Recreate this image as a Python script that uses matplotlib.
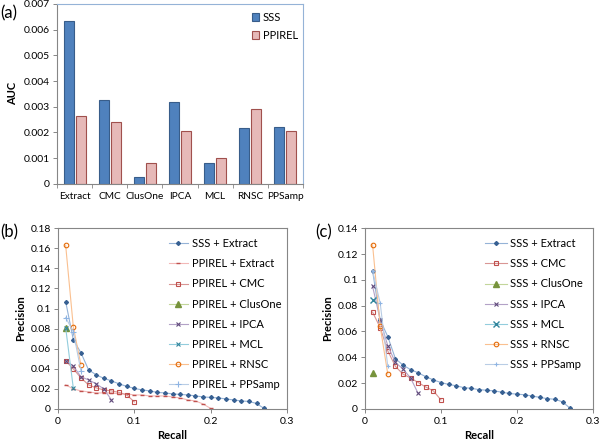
import numpy as np
import matplotlib
matplotlib.use("Agg")
import matplotlib.pyplot as plt

plt.rcParams['font.family'] = ['Lato', 'DejaVu Sans']

# (a) AUC bars
methods = ['Extract', 'CMC', 'ClusOne', 'IPCA', 'MCL', 'RNSC', 'PPSamp']
auc_sss = [0.00633, 0.00327, 0.00027, 0.00317, 0.00083, 0.00218, 0.00222]
auc_ppirel = [0.00263, 0.00239, 0.00080, 0.00206, 0.00101, 0.00290, 0.00205]

# precision/recall curves
rec_extract = [round(0.01 * i, 2) for i in range(1, 28)]
sss_extract = [0.107, 0.069, 0.056, 0.039, 0.034, 0.0305, 0.028, 0.025, 0.0225,
               0.0205, 0.019, 0.018, 0.0165, 0.016, 0.015, 0.0145, 0.014, 0.013,
               0.012, 0.0115, 0.011, 0.010, 0.009, 0.008, 0.0075, 0.0055, 0.0005]
rec_pp_extract = [round(0.01 * i, 2) for i in range(1, 21)]
pp_extract = [0.024, 0.020, 0.018, 0.017, 0.016, 0.016, 0.016, 0.015, 0.015, 0.014,
              0.014, 0.013, 0.013, 0.013, 0.012, 0.011, 0.009, 0.008, 0.005, 0.0005]

# (b) PPIREL + method
b_cmc_r = [0.01, 0.02, 0.03, 0.04, 0.05, 0.06, 0.07, 0.08, 0.09, 0.10]
b_cmc_p = [0.048, 0.040, 0.031, 0.024, 0.021, 0.019, 0.018, 0.0165, 0.014, 0.007]
b_clus_r = [0.01]
b_clus_p = [0.081]
b_ipca_r = [0.01, 0.02, 0.03, 0.04, 0.05, 0.06, 0.07]
b_ipca_p = [0.048, 0.043, 0.032, 0.029, 0.025, 0.020, 0.009]
b_mcl_r = [0.01, 0.02]
b_mcl_p = [0.081, 0.021]
b_rnsc_r = [0.01, 0.02, 0.03]
b_rnsc_p = [0.163, 0.082, 0.044]
b_pps_r = [0.01, 0.02, 0.03]
b_pps_p = [0.091, 0.077, 0.038]

# (c) SSS + method
c_cmc_r = [0.01, 0.02, 0.03, 0.04, 0.05, 0.06, 0.07, 0.08, 0.09, 0.10]
c_cmc_p = [0.075, 0.063, 0.045, 0.033, 0.027, 0.024, 0.0205, 0.017, 0.014, 0.007]
c_clus_r = [0.01]
c_clus_p = [0.028]
c_ipca_r = [0.01, 0.02, 0.03, 0.04, 0.05, 0.06, 0.07]
c_ipca_p = [0.095, 0.069, 0.049, 0.036, 0.031, 0.024, 0.012]
c_mcl_r = [0.01]
c_mcl_p = [0.084]
c_rnsc_r = [0.01, 0.02, 0.03]
c_rnsc_p = [0.127, 0.064, 0.027]
c_pps_r = [0.01, 0.02, 0.03]
c_pps_p = [0.107, 0.082, 0.033]

BLUE = '#4F81BD'
SPINE = '#868686'
FS = 8
TFS = 7.5

fig = plt.figure(figsize=(6, 4.41), dpi=100)

def style_axes(ax):
    for s in ax.spines.values():
        s.set_color(SPINE)
        s.set_linewidth(0.8)
    ax.tick_params(labelsize=TFS, color=SPINE, length=3, width=0.7, direction='out', pad=2)

# ---- (a) ----
ax = fig.add_axes([0.095, 0.583, 0.41, 0.408])
x = np.arange(len(methods))
w = 0.285
off = 0.17
ax.bar(x - off, auc_sss, w, color=BLUE, edgecolor='#385D8A', linewidth=0.8, label='SSS')
ax.bar(x + off, auc_ppirel, w, color='#E6B9B8', edgecolor='#A0504D', linewidth=0.8, label='PPIREL')
ax.set_xlim(-0.5, len(methods) - 0.5)
ax.set_ylim(0, 0.007)
ax.set_yticks(np.arange(0, 0.0071, 0.001))
ax.set_yticklabels(['0'] + ['%.3f' % v for v in np.arange(0.001, 0.0071, 0.001)])
ax.set_xticks(x)
ax.set_xticklabels(methods)
ax.set_xticks(np.arange(-0.5, len(methods), 1), minor=True)
style_axes(ax)
ax.tick_params(axis='x', which='major', length=0, pad=6, labelsize=7.3)
ax.tick_params(axis='x', which='minor', length=3, color=SPINE)
ax.spines['top'].set_color('#95B3D7')
ax.spines['right'].set_color('#95B3D7')
ax.set_ylabel('AUC', fontsize=FS, fontweight='bold', labelpad=4)
ax.legend(loc='upper right', frameon=False, fontsize=FS, handlelength=0.7, handleheight=0.7,
          handletextpad=0.3, labelspacing=0.58, bbox_to_anchor=(1.02, 1.01))
fig.text(0.0, 0.97, '(a)', fontsize=12, va='center')

# ---- (b) and (c) ----
def pr_axes(rect, ymax, ystep):
    a = fig.add_axes(rect)
    a.set_xlim(0, 0.3)
    a.set_ylim(0, ymax)
    a.set_xticks([0, 0.1, 0.2, 0.3])
    a.set_xticklabels(['0', '0.1', '0.2', '0.3'])
    yt = np.round(np.arange(0, ymax + 1e-9, ystep), 3)
    a.set_yticks(yt)
    a.set_yticklabels(['0'] + ['%g' % v for v in yt[1:]])
    style_axes(a)
    a.tick_params(axis='x', pad=3)
    a.set_xlabel('Recall', fontsize=FS, fontweight='bold')
    a.xaxis.set_label_coords(0.5, -0.118)
    a.set_ylabel('Precision', fontsize=FS, fontweight='bold', labelpad=3)
    return a

axb = pr_axes([0.0967, 0.0726, 0.3817, 0.41], 0.18, 0.02)
axb.plot(rec_extract, sss_extract, color='#95B3D7', lw=0.8, marker='D', ms=2,
         mfc='#376092', mec='#376092', label='SSS + Extract')
axb.plot(rec_pp_extract, pp_extract, color='#F2B8B7', lw=0.8, marker='_', ms=3,
         mec='#C0504D', label='PPIREL + Extract')
axb.plot(b_cmc_r, b_cmc_p, color='#D99694', lw=0.8, marker='s', ms=3.3,
         mfc='none', mec='#C0504D', mew=0.8, label='PPIREL + CMC')
axb.plot(b_clus_r, b_clus_p, color='#C3D69B', lw=0.8, marker='^', ms=4.5,
         mfc='#77933C', mec='#77933C', label='PPIREL + ClusOne')
axb.plot(b_ipca_r, b_ipca_p, color='#B3A2C7', lw=0.8, marker='x', ms=3,
         mec='#604A7B', mew=0.8, label='PPIREL + IPCA')
axb.plot(b_mcl_r, b_mcl_p, color='#93CDDD', lw=0.8, marker='x', ms=2.5,
         mec='#31859C', mew=0.8, label='PPIREL + MCL')
axb.plot(b_rnsc_r, b_rnsc_p, color='#FAC090', lw=0.8, marker='o', ms=3.3,
         mfc='none', mec='#E46C0A', mew=0.8, label='PPIREL + RNSC')
axb.plot(b_pps_r, b_pps_p, color='#B9CDE5', lw=0.8, marker='+', ms=5,
         mec='#8EB4E3', mew=0.8, label='PPIREL + PPSamp')
axb.legend(loc='upper right', frameon=False, fontsize=FS, handlelength=1.7,
           handletextpad=0.4, labelspacing=0.82, bbox_to_anchor=(1.02, 1.0))
fig.text(0.0, 0.472, '(b)', fontsize=12, va='center')

axc = pr_axes([0.6083, 0.0726, 0.38, 0.41], 0.14, 0.02)
axc.plot(rec_extract, sss_extract, color='#95B3D7', lw=0.8, marker='D', ms=2,
         mfc='#376092', mec='#376092', label='SSS + Extract')
axc.plot(c_cmc_r, c_cmc_p, color='#D99694', lw=0.8, marker='s', ms=3.3,
         mfc='none', mec='#C0504D', mew=0.8, label='SSS + CMC')
axc.plot(c_clus_r, c_clus_p, color='#C3D69B', lw=0.8, marker='^', ms=4.5,
         mfc='#77933C', mec='#77933C', label='SSS + ClusOne')
axc.plot(c_ipca_r, c_ipca_p, color='#B3A2C7', lw=0.8, marker='x', ms=3,
         mec='#604A7B', mew=0.8, label='SSS + IPCA')
axc.plot(c_mcl_r, c_mcl_p, color='#93CDDD', lw=0.8, marker='x', ms=4.5,
         mec='#31859C', mew=1.0, label='SSS + MCL')
axc.plot(c_rnsc_r, c_rnsc_p, color='#FAC090', lw=0.8, marker='o', ms=3.3,
         mfc='none', mec='#E46C0A', mew=0.8, label='SSS + RNSC')
axc.plot(c_pps_r, c_pps_p, color='#B9CDE5', lw=0.8, marker='+', ms=3.3,
         mec='#8EB4E3', mew=0.8, label='SSS + PPSamp')
axc.legend(loc='upper right', frameon=False, fontsize=FS, handlelength=2.0,
           handletextpad=0.3, labelspacing=0.82, bbox_to_anchor=(1.0, 1.0))
fig.text(0.525, 0.472, '(c)', fontsize=12, va='center')

fig.savefig('out.png', dpi=100)
